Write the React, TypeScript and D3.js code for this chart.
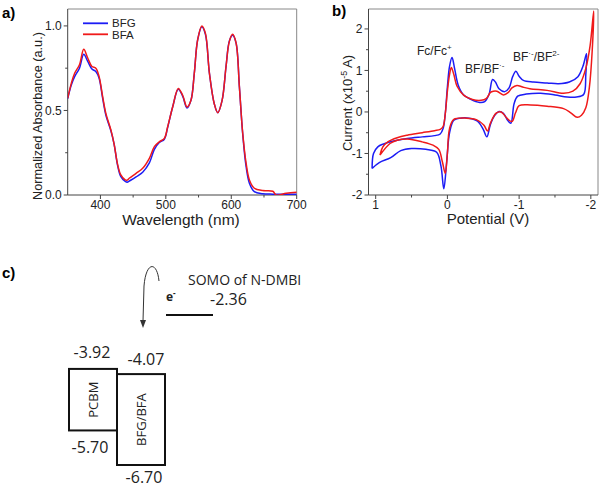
import React from "react";
import * as d3 from "d3";

// ---- Panel a: UV-vis ----
const wavelength = [350, 355.5, 360.6, 368, 374.5, 380.6, 387, 393, 398, 403.5, 408.5, 416, 421, 426, 431, 438, 441, 444, 454.5, 464.6, 474.8, 482.5, 490, 497.7, 502.8, 510.4, 519, 525.7, 532.3, 538.4, 543.5, 548.6, 555, 560.5, 566.6, 574, 579.3, 586, 592, 597, 602, 607.3, 612.4, 617.5, 622.6, 627.7, 635.3, 648, 663.5, 668.5, 684, 700];
const absBFG = [0.57, 0.65, 0.70, 0.75, 0.832, 0.79, 0.745, 0.73, 0.69, 0.57, 0.47, 0.38, 0.30, 0.18, 0.11, 0.08, 0.075, 0.082, 0.107, 0.135, 0.19, 0.27, 0.31, 0.33, 0.40, 0.52, 0.625, 0.585, 0.515, 0.56, 0.72, 0.917, 0.995, 0.95, 0.72, 0.54, 0.487, 0.56, 0.76, 0.91, 0.945, 0.9, 0.64, 0.36, 0.17, 0.07, 0.02, 0.008, 0.005, 0.004, 0.004, 0.005];
const absBFA = [0.572, 0.66, 0.72, 0.77, 0.862, 0.81, 0.76, 0.75, 0.70, 0.58, 0.48, 0.385, 0.30, 0.186, 0.12, 0.089, 0.088, 0.099, 0.128, 0.158, 0.217, 0.286, 0.315, 0.335, 0.404, 0.52, 0.63, 0.59, 0.52, 0.56, 0.72, 0.917, 1.0, 0.956, 0.72, 0.54, 0.487, 0.56, 0.76, 0.907, 0.95, 0.9, 0.64, 0.365, 0.19, 0.089, 0.04, 0.026, 0.022, 0.0, 0.01, 0.016];
const aXTicks = [400, 500, 600, 700];
const aXMinor = [450, 550, 650];
const aYTicks = [0, 0.5, 1.0];
const aYMinor = [0.25, 0.75];

// ---- Panel b: CV ----
const cvBFG_V = [1.05, 1.03, 0.97, 0.89, 0.75, 0.56, 0.35, 0.18, 0.1, 0.06, 0.03, 0.0, -0.03, -0.065, -0.1, -0.15, -0.22, -0.32, -0.45, -0.52, -0.58, -0.63, -0.67, -0.72, -0.8, -0.86, -0.91, -0.955, -1.0, -1.06, -1.2, -1.39, -1.55, -1.7, -1.82, -1.89, -1.94,
  -1.93, -1.9, -1.8, -1.67, -1.5, -1.3, -1.1, -0.98, -0.93, -0.885, -0.84, -0.78, -0.72, -0.66, -0.6, -0.55, -0.5, -0.42, -0.3, -0.18, -0.09, -0.03, 0.01, 0.05, 0.09, 0.15, 0.3, 0.5, 0.65, 0.79, 0.95, 1.05];
const cvBFG_I = [-1.36, -1.0, -0.84, -0.77, -0.70, -0.64, -0.60, -0.57, -0.53, -0.4, -0.05, 0.6, 1.1, 1.31, 1.05, 0.65, 0.42, 0.31, 0.23, 0.25, 0.42, 0.78, 0.72, 0.56, 0.49, 0.58, 0.85, 0.98, 0.86, 0.76, 0.72, 0.70, 0.68, 0.72, 0.85, 1.1, 1.4,
  0.9, 0.42, 0.36, 0.36, 0.41, 0.45, 0.43, 0.38, 0.2, -0.27, -0.2, -0.03, 0.01, -0.08, -0.3, -0.6, -0.42, -0.22, -0.15, -0.15, -0.2, -0.5, -1.2, -1.85, -1.3, -0.97, -0.9, -0.88, -0.93, -1.1, -1.22, -1.36];
const cvBFA_V = [0.94, 0.9, 0.83, 0.7, 0.56, 0.35, 0.18, 0.1, 0.06, 0.03, 0.0, -0.03, -0.055, -0.09, -0.135, -0.23, -0.35, -0.47, -0.54, -0.6, -0.64, -0.69, -0.78, -0.85, -0.9, -0.97, -1.05, -1.15, -1.39, -1.62, -1.75, -1.85, -1.93, -1.99, -2.04,
  -2.02, -1.98, -1.93, -1.87, -1.81, -1.72, -1.62, -1.39, -1.16, -1.0, -0.95, -0.9, -0.83, -0.75, -0.68, -0.6, -0.56, -0.51, -0.41, -0.27, -0.09, -0.03, 0.0, 0.03, 0.07, 0.12, 0.2, 0.35, 0.56, 0.7, 0.8, 0.94];
const cvBFA_I = [-1.04, -0.84, -0.72, -0.62, -0.56, -0.5, -0.45, -0.42, -0.35, -0.05, 0.5, 0.9, 1.07, 0.9, 0.62, 0.40, 0.30, 0.28, 0.32, 0.47, 0.5, 0.5, 0.41, 0.47, 0.58, 0.64, 0.6, 0.56, 0.52, 0.45, 0.5, 0.68, 1.05, 1.6, 2.43,
  1.5, 0.6, 0.1, -0.08, -0.13, -0.02, 0.08, 0.14, 0.17, 0.15, -0.02, -0.23, -0.15, 0.0, -0.03, -0.27, -0.46, -0.32, -0.19, -0.15, -0.18, -0.4, -1.0, -1.48, -1.2, -0.9, -0.8, -0.72, -0.65, -0.68, -0.76, -1.04];
const bXTicks = [1, 0, -1, -2];
const bXMinor = [0.5, -0.5, -1.5];
const bYTicks = [-2, -1, 0, 1, 2];
const bYMinor = [-1.5, -0.5, 0.5, 1.5];

// ---- Panel c: energy levels (eV) ----
const somo = -2.36;
const pcbmLUMO = -3.92;
const pcbmHOMO = -5.70;
const bfLUMO = -4.07;
const bfHOMO = -6.70;

const BLUE = "#1c1cf5";
const RED = "#f01a1a";
const AXIS = "#444";
const FRAME = "#888";
const FONT = "Liberation Sans, Arial, sans-serif";

function Frame({ x, y, xt, xm, yt, ym, fmtX, fmtY }: any) {
  const [x0, x1] = x.range();
  const [y0, y1] = y.range();
  return (
    <g fontFamily={FONT} fontSize={12} fill="#222">
      <line x1={x0} x2={x1} y1={y1} y2={y1} stroke={FRAME} strokeWidth={1} />
      <line x1={x1} x2={x1} y1={y0} y2={y1} stroke={FRAME} strokeWidth={1} />
      <line x1={x0} x2={x1} y1={y0} y2={y0} stroke={AXIS} strokeWidth={1} />
      <line x1={x0} x2={x0} y1={y0} y2={y1} stroke={AXIS} strokeWidth={1} />
      {xt.map((t: number) => (
        <g key={"xt" + t}>
          <line x1={x(t)} x2={x(t)} y1={y0} y2={y0 + 4} stroke={AXIS} />
          <text x={x(t)} y={y0 + 13.5} textAnchor="middle">{fmtX(t)}</text>
        </g>
      ))}
      {xm.map((t: number) => (
        <line key={"xm" + t} x1={x(t)} x2={x(t)} y1={y0} y2={y0 + 2.5} stroke={AXIS} />
      ))}
      {yt.map((t: number) => (
        <g key={"yt" + t}>
          <line x1={x0 - 4} x2={x0} y1={y(t)} y2={y(t)} stroke={AXIS} />
          <text x={x0 - 6} y={y(t) + 4.3} textAnchor="end">{fmtY(t)}</text>
        </g>
      ))}
      {ym.map((t: number) => (
        <line key={"ym" + t} x1={x0 - 2.5} x2={x0} y1={y(t)} y2={y(t)} stroke={AXIS} />
      ))}
    </g>
  );
}

export default function App() {
  // Panel a scales
  const ax = d3.scaleLinear().domain([350, 700]).range([67.7, 296.7]);
  const ay = d3.scaleLinear().domain([0, 1.1]).range([195, 9]);
  const aLine = d3.line<number>().x((_, i) => ax(wavelength[i])).y((d) => ay(d)).curve(d3.curveCatmullRom.alpha(0.5));

  // Panel b scales
  const bx = d3.scaleLinear().domain([1.1, -2.1]).range([368.5, 598]);
  const by = d3.scaleLinear().domain([-2, 2.48]).range([195, 9]);
  const cvLine = (V: number[]) => d3.line<number>().x((_, i) => bx(V[i])).y((d) => by(d)).curve(d3.curveCatmullRom.alpha(0.5));

  // Panel c scale
  const ey = d3.scaleLinear().domain([somo, bfHOMO]).range([315, 465]);
  const pcbmX = [69, 117];
  const bfX = [117, 165];

  return (
    <svg width={600} height={488} style={{ position: "absolute", left: 0, top: 0, background: "#fff" }}>
      <rect width={600} height={488} fill="#fff" />
      <defs>
        <clipPath id="clipA"><rect x={67.7} y={9} width={229} height={186} /></clipPath>
        <clipPath id="clipB"><rect x={368.5} y={9} width={229.5} height={186} /></clipPath>
      </defs>
      {/* Panel a */}
      <text x={2} y={18} fontFamily={FONT} fontWeight="bold" fontSize={15}>a)</text>
      <Frame x={ax} y={ay} xt={aXTicks} xm={aXMinor} yt={aYTicks} ym={aYMinor} fmtX={(t: number) => String(t)} fmtY={(t: number) => t.toFixed(1)} />
      <g clipPath="url(#clipA)">
        <path d={aLine(absBFG) || ""} fill="none" stroke={BLUE} strokeWidth={1.5} />
        <path d={aLine(absBFA) || ""} fill="none" stroke={RED} strokeWidth={1.5} />
      </g>
      <g fontFamily={FONT} fontSize={11.5} fill="#222">
        <line x1={83} x2={108} y1={23.3} y2={23.3} stroke={BLUE} strokeWidth={1.8} />
        <text x={112} y={27}>BFG</text>
        <line x1={83} x2={108} y1={34.3} y2={34.3} stroke={RED} strokeWidth={1.8} />
        <text x={112} y={38.5}>BFA</text>
      </g>
      <text x={181} y={225} textAnchor="middle" fontFamily={FONT} fontSize={15.5} fill="#222">Wavelength (nm)</text>
      <text transform="translate(42,116) rotate(-90)" textAnchor="middle" fontFamily={FONT} fontSize={12.7} fill="#222">Normalized Absorbance (a.u.)</text>

      {/* Panel b */}
      <text x={332} y={16} fontFamily={FONT} fontWeight="bold" fontSize={15}>b)</text>
      <Frame x={bx} y={by} xt={bXTicks} xm={bXMinor} yt={bYTicks} ym={bYMinor} fmtX={(t: number) => String(t)} fmtY={(t: number) => String(t)} />
      <g clipPath="url(#clipB)">
        <path d={cvLine(cvBFG_V)(cvBFG_I) || ""} fill="none" stroke={BLUE} strokeWidth={1.5} strokeLinejoin="round" />
        <path d={cvLine(cvBFA_V)(cvBFA_I) || ""} fill="none" stroke={RED} strokeWidth={1.5} strokeLinejoin="round" />
      </g>
      <text x={488} y={224} textAnchor="middle" fontFamily={FONT} fontSize={15} fill="#222">Potential (V)</text>
      <text transform="translate(352,103) rotate(-90)" textAnchor="middle" fontFamily={FONT} fontSize={13} fill="#222">
        Current (x10<tspan dy={-5} fontSize={9}>-5</tspan><tspan dy={5}> A)</tspan>
      </text>
      <g fontFamily={FONT} fontSize={12} fill="#222">
        <text x={417} y={55}>Fc/Fc<tspan dy={-5} fontSize={8}>+</tspan></text>
        <text x={465} y={73}>BF/BF<tspan dy={-5} fontSize={8}>·-</tspan></text>
        <text x={513} y={61}>BF<tspan dy={-5} fontSize={8}>·-</tspan><tspan dy={5}>/BF</tspan><tspan dy={-5} fontSize={8}>2-</tspan></text>
      </g>

      {/* Panel c */}
      <text x={2} y={278} fontFamily={FONT} fontWeight="bold" fontSize={15}>c)</text>
      <g fontFamily="Open Sans, sans-serif" fontSize={16} fill="#222">
        <text x={188} y={285} fontSize={14}>SOMO of N-DMBI</text>
        <text x={210} y={305}>{somo.toFixed(2)}</text>
        <text x={166} y={301} fontWeight="bold" fontSize={12}>e<tspan dy={-5} fontSize={8}>-</tspan></text>
        <line x1={166} x2={213} y1={ey(somo)} y2={ey(somo)} stroke="#111" strokeWidth={2} />
        <path d="M159,281 C157,261 146,261 144,286 L143,321" fill="none" stroke="#333" strokeWidth={1} />
        <path d="M140,320 L146,320 L143,328 Z" fill="#333" />
        <rect x={pcbmX[0]} y={ey(pcbmLUMO)} width={pcbmX[1] - pcbmX[0]} height={ey(pcbmHOMO) - ey(pcbmLUMO)} fill="none" stroke="#111" strokeWidth={2} />
        <rect x={bfX[0]} y={ey(bfLUMO)} width={bfX[1] - bfX[0]} height={ey(bfHOMO) - ey(bfLUMO)} fill="none" stroke="#111" strokeWidth={2} />
        <text x={92} y={ey(pcbmLUMO) - 11} textAnchor="middle">{pcbmLUMO.toFixed(2)}</text>
        <text x={146} y={ey(bfLUMO) - 9} textAnchor="middle">{bfLUMO.toFixed(2)}</text>
        <text x={90} y={ey(pcbmHOMO) + 23} textAnchor="middle">{pcbmHOMO.toFixed(2)}</text>
        <text x={144} y={ey(bfHOMO) + 18} textAnchor="middle">{bfHOMO.toFixed(2)}</text>
        <text transform={`translate(${(pcbmX[0] + pcbmX[1]) / 2 + 5},${(ey(pcbmLUMO) + ey(pcbmHOMO)) / 2}) rotate(-90)`} textAnchor="middle" fontSize={13}>PCBM</text>
        <text transform={`translate(${(bfX[0] + bfX[1]) / 2 + 5},${(ey(bfLUMO) + ey(bfHOMO)) / 2}) rotate(-90)`} textAnchor="middle" fontSize={13}>BFG/BFA</text>
      </g>
    </svg>
  );
}
